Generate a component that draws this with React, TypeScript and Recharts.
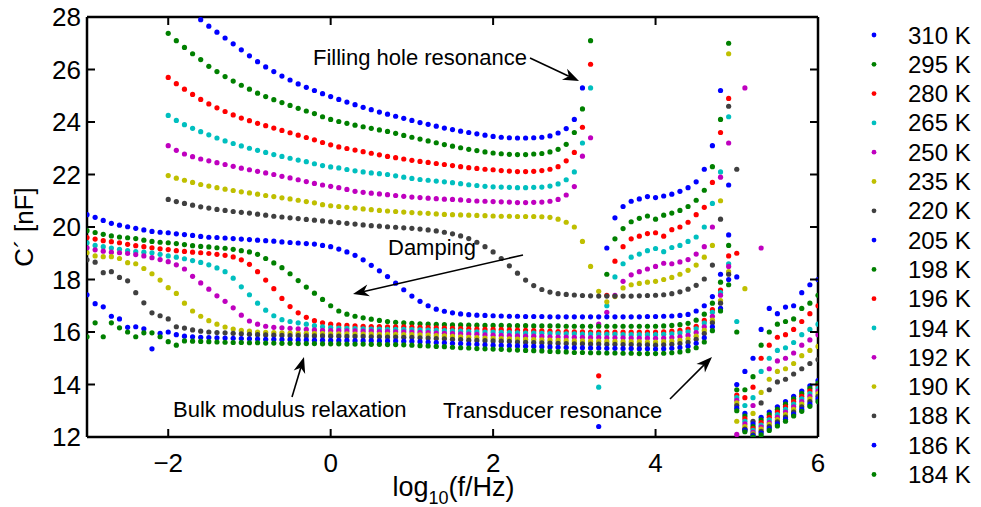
import React from 'react';
import { ScatterChart, Scatter, XAxis, YAxis } from 'recharts';

const N = null;
// measured frequency grid, log10(f/Hz), one point per 0.1 decade
const logF = Array.from({ length: 91 }, (_, i) => Math.round(-30 + i) / 10);

const c310 = [
  N, N, N, N, N, N, N, N, N, N,
  N, N, N, N, 27.9, 27.65, 27.42, 27.2, 26.98, 26.75,
  26.52, 26.3, 26.1, 25.92, 25.75, 25.6, 25.45, 25.32, 25.2, 25.08,
  24.97, 24.86, 24.76, 24.66, 24.56, 24.47, 24.38, 24.3, 24.22, 24.14,
  24.06, 23.98, 23.91, 23.84, 23.77, 23.71, 23.65, 23.6, 23.55, 23.5,
  23.45, 23.42, 23.4, 23.39, 23.39, 23.4, 23.42, 23.47, 23.58, 23.75,
  24.1, 25.3, N, 12.4, 19.2, 20.35, 20.78, 20.98, 21.07, 21.16,
  21.12, 21.18, 21.25, 21.36, 21.5, 21.72, 22.2, 23.1, 25.2, 21.6,
  18.1, 14.5, 15.0, 16.1, 16.9, 16.7, 16.95, 17.0, 17.5, 17.8,
  18.0,
];
const c295 = [
  N, N, N, N, N, N, N, N, N, N,
  27.38, 27.1, 26.84, 26.6, 26.38, 26.12, 25.92, 25.73, 25.56, 25.4,
  25.25, 25.1, 24.97, 24.85, 24.74, 24.63, 24.52, 24.42, 24.32, 24.2,
  24.1, 24.02, 23.95, 23.88, 23.82, 23.76, 23.7, 23.64, 23.57, 23.49,
  23.42, 23.35, 23.28, 23.21, 23.14, 23.08, 23.02, 22.96, 22.91, 22.86,
  22.82, 22.79, 22.77, 22.76, 22.76, 22.78, 22.8, 22.86, 22.96, 23.15,
  23.6, 24.5, 27.1, N, 18.2, 19.55, 19.94, 20.2, 20.33, 20.42,
  20.3, 20.45, 20.53, 20.63, 20.78, 21.02, 21.4, 22.3, 24.1, 27.0,
  16.0, 13.8, 14.3, 15.5, 16.0, 16.3, 16.4, 16.5, 16.9, 17.1,
  17.4,
];
const c280 = [
  N, N, N, N, N, N, N, N, N, N,
  25.7, 25.46, 25.25, 25.05, 24.86, 24.69, 24.54, 24.4, 24.27, 24.15,
  24.05, 23.95, 23.86, 23.77, 23.68, 23.59, 23.5, 23.41, 23.32, 23.22,
  23.13, 23.05, 22.99, 22.93, 22.87, 22.81, 22.75, 22.69, 22.64, 22.59,
  22.54, 22.5, 22.46, 22.42, 22.38, 22.34, 22.3, 22.26, 22.23, 22.2,
  22.18, 22.15, 22.13, 22.11, 22.11, 22.12, 22.15, 22.2, 22.3, 22.52,
  22.84, 23.8, 26.2, 14.33, 17.4, 18.7, 19.25, 19.55, 19.65, 19.75,
  19.78, 19.65, 19.9, 20.0, 20.18, 20.47, 20.75, 21.7, 23.6, 24.9,
  19.0, 13.5, 13.9, 15.0, 15.5, 15.8, 15.9, 16.1, 16.4, 16.7,
  17.0,
];
const c265 = [
  N, N, N, N, N, N, N, N, N, N,
  24.25, 24.06, 23.9, 23.76, 23.63, 23.51, 23.39, 23.28, 23.18, 23.09,
  23.0, 22.92, 22.84, 22.76, 22.69, 22.62, 22.55, 22.49, 22.41, 22.34,
  22.29, 22.25, 22.19, 22.14, 22.1, 22.06, 22.03, 22.0, 21.95, 21.9,
  21.85, 21.81, 21.78, 21.75, 21.72, 21.69, 21.65, 21.61, 21.58, 21.55,
  21.53, 21.52, 21.51, 21.5, 21.5, 21.51, 21.52, 21.56, 21.64, 21.8,
  22.1, 23.2, 25.3, 13.9, 17.0, 18.1, 18.6, 18.85, 18.97, 19.1,
  19.18, 19.06, 19.22, 19.3, 19.45, 19.62, 20.0, 20.9, 22.1, 24.2,
  16.4, 13.2, 13.5, 14.5, 15.0, 15.3, 15.4, 15.6, 15.9, 16.1,
  16.3,
];
const c250 = [
  N, N, N, N, N, N, N, N, N, N,
  23.1, 22.92, 22.78, 22.68, 22.59, 22.52, 22.45, 22.38, 22.31, 22.24,
  22.18, 22.12, 22.06, 22.0, 21.93, 21.87, 21.8, 21.73, 21.66, 21.6,
  21.55, 21.5, 21.43, 21.36, 21.32, 21.29, 21.26, 21.23, 21.2, 21.17,
  21.14, 21.12, 21.1, 21.08, 21.06, 21.05, 21.03, 21.01, 20.99, 20.98,
  20.97, 20.96, 20.95, 20.93, 20.93, 20.94, 20.95, 20.98, 21.05, 21.22,
  21.54, 22.7, 23.4, 16.3, 16.75, 17.4, 17.93, 18.18, 18.3, 18.4,
  18.5, 18.62, 18.6, 18.67, 18.76, 18.97, 19.25, 20.0, 21.9, 23.2,
  12.1, 25.3, 13.2, 19.2, 14.6, 14.9, 15.0, 15.2, 15.5, 15.7,
  15.9,
];
const c235 = [
  N, N, N, N, N, N, N, N, N, N,
  21.96, 21.86, 21.78, 21.7, 21.62, 21.56, 21.5, 21.44, 21.39, 21.34,
  21.3, 21.25, 21.2, 21.16, 21.11, 21.07, 21.02, 20.97, 20.92, 20.85,
  20.81, 20.78, 20.75, 20.72, 20.69, 20.66, 20.63, 20.61, 20.59, 20.57,
  20.55, 20.53, 20.52, 20.5, 20.48, 20.47, 20.46, 20.45, 20.44, 20.43,
  20.42, 20.41, 20.41, 20.4, 20.4, 20.4, 20.39, 20.37, 20.3, 20.18,
  20.0, 19.45, 18.5, 17.55, 17.15, 17.35, 17.68, 17.8, 17.85, 17.9,
  17.93, 18.0, 18.08, 18.2, 18.35, 18.55, 18.85, 19.3, 21.0, 26.6,
  12.6, 17.65, 12.9, 13.7, 14.2, 14.5, 14.6, 14.8, 15.1, 15.3,
  15.45,
];
const c220 = [
  N, N, N, N, N, N, N, N, N, N,
  21.05, 20.97, 20.9, 20.83, 20.77, 20.72, 20.67, 20.63, 20.59, 20.56,
  20.53, 20.49, 20.45, 20.41, 20.38, 20.35, 20.32, 20.29, 20.26, 20.23,
  20.2, 20.17, 20.14, 20.11, 20.08, 20.05, 20.03, 20.01, 19.99, 19.97,
  19.95, 19.92, 19.89, 19.85, 19.8, 19.74, 19.66, 19.56, 19.42, 19.25,
  19.05, 18.8, 18.52, 18.24, 17.98, 17.77, 17.62, 17.52, 17.46, 17.43,
  17.41, 17.39, 17.38, 17.37, 17.37, 17.37, 17.37, 17.37, 17.38, 17.39,
  17.4, 17.42, 17.46, 17.53, 17.63, 17.78, 18.02, 18.55, 20.3, 24.6,
  22.2, 12.3, 12.6, 13.3, 13.8, 14.1, 14.2, 14.4, 14.6, 14.8,
  14.95,
];
const c205 = [
  20.47, 20.37, 20.25, 20.14, 20.07, 20.01, 19.95, 19.89, 19.83, 19.8,
  19.78, 19.74, 19.71, 19.68, 19.64, 19.61, 19.6, 19.58, 19.56, 19.54,
  19.52, 19.5, 19.48, 19.46, 19.43, 19.41, 19.39, 19.37, 19.35, 19.3,
  19.25, 19.16, 19.05, 18.92, 18.75, 18.54, 18.33, 18.11, 17.86, 17.61,
  17.37, 17.17, 17.0, 16.87, 16.79, 16.73, 16.69, 16.66, 16.64, 16.63,
  16.62, 16.61, 16.6, 16.6, 16.59, 16.59, 16.59, 16.58, 16.58, 16.58,
  16.58, 16.58, 16.58, 16.58, 16.58, 16.58, 16.58, 16.58, 16.58, 16.59,
  16.59, 16.6, 16.61, 16.63, 16.67, 16.8, 17.0, 17.35, 18.2, 19.7,
  14.0, 12.9, 12.5, 12.75, 12.95, 13.15, 13.35, 13.55, 13.75, 13.95,
  14.15,
];
const c198 = [
  19.86, 19.79, 19.72, 19.66, 19.62, 19.59, 19.56, 19.5, 19.45, 19.42,
  19.4, 19.37, 19.33, 19.29, 19.26, 19.24, 19.21, 19.19, 19.15, 19.1,
  19.05, 18.96, 18.8, 18.63, 18.45, 18.22, 17.96, 17.71, 17.48, 17.24,
  17.0, 16.8, 16.68, 16.6, 16.54, 16.49, 16.44, 16.4, 16.37, 16.35,
  16.33, 16.31, 16.3, 16.29, 16.28, 16.27, 16.27, 16.26, 16.26, 16.25,
  16.25, 16.25, 16.24, 16.24, 16.24, 16.23, 16.23, 16.23, 16.23, 16.22,
  16.22, 16.22, 16.22, 16.22, 16.22, 16.22, 16.22, 16.22, 16.22, 16.22,
  16.22, 16.23, 16.25, 16.28, 16.33, 16.45, 16.68, 17.1, 17.9, 19.3,
  13.8, 12.8, 12.4, 12.65, 12.85, 13.05, 13.25, 13.45, 13.65, 13.85,
  14.05,
];
const c196 = [
  19.6, 19.54, 19.48, 19.44, 19.4, 19.34, 19.29, 19.25, 19.21, 19.17,
  19.14, 19.1, 19.07, 19.04, 19.02, 18.99, 18.96, 18.92, 18.86, 18.75,
  18.58, 18.3, 17.98, 17.65, 17.28, 16.97, 16.73, 16.56, 16.43, 16.35,
  16.3, 16.27, 16.25, 16.23, 16.22, 16.21, 16.21, 16.2, 16.2, 16.2,
  16.19, 16.18, 16.17, 16.16, 16.15, 16.14, 16.13, 16.12, 16.11, 16.1,
  16.1, 16.09, 16.08, 16.07, 16.06, 16.05, 16.04, 16.03, 16.02, 16.02,
  16.01, 16.01, 16.0, 16.0, 16.0, 16.0, 16.0, 16.0, 16.0, 16.0,
  16.0, 16.01, 16.03, 16.06, 16.11, 16.22, 16.44, 16.85, 17.6, 18.9,
  13.6, 12.7, 12.32, 12.55, 12.75, 12.95, 13.15, 13.35, 13.55, 13.75,
  13.95,
];
const c194 = [
  19.4, 19.3, 19.25, 19.2, 19.15, 19.1, 19.06, 19.04, 19.02, 18.96,
  18.9, 18.85, 18.79, 18.72, 18.65, 18.56, 18.44, 18.3, 18.05, 17.72,
  17.42, 17.1, 16.83, 16.62, 16.47, 16.4, 16.35, 16.3, 16.24, 16.2,
  16.17, 16.15, 16.14, 16.13, 16.12, 16.11, 16.11, 16.1, 16.1, 16.1,
  16.09, 16.08, 16.07, 16.06, 16.05, 16.04, 16.03, 16.02, 16.01, 16.0,
  16.0, 15.99, 15.98, 15.97, 15.96, 15.96, 15.95, 15.94, 15.94, 15.93,
  15.93, 15.92, 15.92, 15.91, 15.91, 15.91, 15.9, 15.9, 15.9, 15.9,
  15.9, 15.91, 15.93, 15.96, 16.01, 16.12, 16.34, 16.75, 17.5, 18.6,
  13.5, 12.6, 12.25, 12.45, 12.65, 12.85, 13.05, 13.25, 13.45, 13.65,
  13.85,
];
const c192 = [
  19.21, 19.13, 19.08, 19.04, 19.02, 18.99, 18.95, 18.9, 18.83, 18.76,
  18.68, 18.56, 18.4, 18.12, 17.87, 17.63, 17.38, 17.17, 16.92, 16.64,
  16.42, 16.3, 16.22, 16.18, 16.16, 16.14, 16.12, 16.1, 16.08, 16.06,
  16.05, 16.05, 16.04, 16.04, 16.03, 16.03, 16.02, 16.02, 16.01, 16.01,
  16.0, 15.99, 15.98, 15.96, 15.95, 15.94, 15.93, 15.92, 15.91, 15.89,
  15.88, 15.87, 15.86, 15.85, 15.84, 15.84, 15.83, 15.82, 15.81, 15.81,
  15.8, 15.8, 15.79, 15.79, 15.78, 15.78, 15.78, 15.77, 15.77, 15.77,
  15.76, 15.77, 15.79, 15.82, 15.87, 15.98, 16.2, 16.6, 17.4, 18.5,
  13.4, 12.5, 12.18, 12.38, 12.55, 12.75, 12.95, 13.15, 13.35, 13.55,
  13.75,
];
const c190 = [
  19.02, 18.9, 18.87, 18.87, 18.8, 18.64, 18.6, 18.42, 18.22, 17.98,
  17.69, 17.47, 17.1, 16.8, 16.6, 16.43, 16.3, 16.19, 16.11, 16.06,
  16.03, 16.0, 15.99, 15.98, 15.97, 15.96, 15.95, 15.95, 15.94, 15.94,
  15.93, 15.93, 15.93, 15.92, 15.92, 15.92, 15.91, 15.91, 15.91, 15.9,
  15.9, 15.89, 15.88, 15.86, 15.85, 15.83, 15.82, 15.8, 15.79, 15.77,
  15.76, 15.75, 15.74, 15.73, 15.72, 15.71, 15.7, 15.69, 15.68, 15.67,
  15.66, 15.66, 15.65, 15.65, 15.64, 15.64, 15.63, 15.63, 15.63, 15.62,
  15.62, 15.63, 15.65, 15.68, 15.73, 15.84, 16.06, 16.45, 17.2, 18.3,
  13.3, 12.4, 12.12, 12.3, 12.48, 12.66, 12.85, 13.05, 13.25, 13.45,
  13.65,
];
const c188 = [
  18.75, 18.66, 18.26, 18.3, 18.08, 17.95, 17.5, 17.11, 16.73, 16.62,
  16.5, 16.2, 16.15, 16.08, 16.03, 16.0, 15.98, 15.97, 15.95, 15.93,
  15.91, 15.9, 15.89, 15.88, 15.87, 15.86, 15.86, 15.85, 15.85, 15.85,
  15.84, 15.84, 15.83, 15.83, 15.83, 15.82, 15.82, 15.81, 15.81, 15.8,
  15.8, 15.78, 15.77, 15.75, 15.74, 15.72, 15.71, 15.69, 15.68, 15.67,
  15.66, 15.65, 15.64, 15.62, 15.61, 15.6, 15.59, 15.58, 15.57, 15.56,
  15.55, 15.55, 15.54, 15.54, 15.53, 15.53, 15.52, 15.52, 15.51, 15.51,
  15.5, 15.51, 15.53, 15.56, 15.61, 15.72, 15.94, 16.35, 17.1, 18.2,
  13.2, 12.3, 12.08, 12.22, 12.4, 12.58, 12.76, 12.95, 13.15, 13.35,
  13.55,
];
const c186 = [
  17.42, 17.08, 16.96, 16.6, 16.5, 16.18, 16.2, 16.12, 15.36, 15.95,
  16.0, 15.9, 15.84, 15.82, 15.8, 15.79, 15.78, 15.77, 15.76, 15.75,
  15.74, 15.73, 15.72, 15.72, 15.71, 15.71, 15.7, 15.7, 15.69, 15.69,
  15.68, 15.68, 15.68, 15.67, 15.67, 15.67, 15.66, 15.66, 15.66, 15.65,
  15.65, 15.63, 15.62, 15.6, 15.59, 15.57, 15.56, 15.54, 15.53, 15.51,
  15.5, 15.49, 15.48, 15.47, 15.46, 15.45, 15.44, 15.43, 15.42, 15.41,
  15.4, 15.4, 15.39, 15.39, 15.38, 15.38, 15.37, 15.37, 15.36, 15.36,
  15.35, 15.36, 15.38, 15.41, 15.46, 15.57, 15.78, 16.2, 16.9, 18.0,
  13.1, 12.25, 12.04, 12.15, 12.32, 12.5, 12.68, 12.87, 13.05, 13.25,
  13.45,
];
const c184 = [
  15.82, 16.35, 15.82, 16.35, 16.16, 16.0, 15.82, 15.97, 15.97, 15.82,
  15.63, 15.5, 15.66, 15.65, 15.64, 15.63, 15.62, 15.61, 15.6, 15.6,
  15.59, 15.59, 15.58, 15.58, 15.57, 15.57, 15.56, 15.56, 15.56, 15.55,
  15.55, 15.55, 15.54, 15.54, 15.54, 15.53, 15.53, 15.52, 15.52, 15.51,
  15.5, 15.48, 15.47, 15.45, 15.44, 15.42, 15.4, 15.39, 15.37, 15.36,
  15.35, 15.34, 15.32, 15.31, 15.3, 15.29, 15.28, 15.26, 15.25, 15.24,
  15.22, 15.22, 15.21, 15.21, 15.2, 15.2, 15.19, 15.19, 15.18, 15.18,
  15.18, 15.19, 15.21, 15.24, 15.29, 15.4, 15.62, 16.05, 16.8, 17.8,
  13.0, 12.2, 12.0, 12.08, 12.25, 12.42, 12.6, 12.8, 12.98, 13.17,
  13.35,
];

const temps = ['310 K', '295 K', '280 K', '265 K', '250 K', '235 K', '220 K', '205 K',
  '198 K', '196 K', '194 K', '192 K', '190 K', '188 K', '186 K', '184 K'];
const colors = ['#0000ff', '#008000', '#ff0000', '#00bfbf', '#bf00bf', '#bfbf00', '#404040', '#0000ff',
  '#008000', '#ff0000', '#00bfbf', '#bf00bf', '#bfbf00', '#404040', '#0000ff', '#008000'];
const values = [c310, c295, c280, c265, c250, c235, c220, c205,
  c198, c196, c194, c192, c190, c188, c186, c184];

const xTicks = [-2, 0, 2, 4, 6];
const yTicks = [12, 14, 16, 18, 20, 22, 24, 26, 28];

const FONT = '"Liberation Sans", Arial, Helvetica, sans-serif';

const series = values.map((vals, s) => ({
  name: temps[s],
  color: colors[s],
  points: vals
    .map((v, i) => (v === null ? null : { x: logF[i], y: v }))
    .filter((p) => p !== null),
}));

const fmt = (v: number) => (v < 0 ? `\u2212${Math.abs(v)}` : `${v}`);

const BottomTick = ({ x, y, payload }: any) => (
  <g>
    <line x1={x} y1={y} x2={x} y2={y - 8} stroke="#000" strokeWidth={2} />
    <text x={x} y={y + 35} textAnchor="middle" fontSize={26} fontFamily={FONT} fill="#000">
      {fmt(payload.value)}
    </text>
  </g>
);
const TopTick = ({ x, y }: any) => (
  <line x1={x} y1={y} x2={x} y2={y + 8} stroke="#000" strokeWidth={2} />
);
const LeftTick = ({ x, y, payload }: any) => (
  <g>
    <line x1={x} y1={y} x2={x + 8} y2={y} stroke="#000" strokeWidth={2} />
    <text x={x - 6} y={y + 9} textAnchor="end" fontSize={26} fontFamily={FONT} fill="#000">
      {payload.value}
    </text>
  </g>
);
const RightTick = ({ x, y }: any) => (
  <line x1={x} y1={y} x2={x - 8} y2={y} stroke="#000" strokeWidth={2} />
);

const Dot = (color: string) => (props: any) => (
  <circle cx={props.cx} cy={props.cy} r={2.6} fill={color} />
);

const arrow = (x1: number, y1: number, x2: number, y2: number) => {
  const a = Math.atan2(y2 - y1, x2 - x1);
  const len = 16;
  const w = 6;
  const bx = x2 - len * Math.cos(a);
  const by = y2 - len * Math.sin(a);
  const nx = x2 - len * 0.7 * Math.cos(a);
  const ny = y2 - len * 0.7 * Math.sin(a);
  const px = -Math.sin(a) * w;
  const py = Math.cos(a) * w;
  return (
    <g>
      <line x1={x1} y1={y1} x2={nx} y2={ny} stroke="#000" strokeWidth={1.6} />
      <polygon
        points={`${x2},${y2} ${bx + px},${by + py} ${nx},${ny} ${bx - px},${by - py}`}
        fill="#000"
      />
    </g>
  );
};

// page is 981x507; the wrapper cancels the body margin so chart pixels = page pixels
const App = () => (
  <div style={{ position: 'relative', width: 981, height: 507, margin: '-8px 0 0 -8px', fontFamily: FONT }}>
    <ScatterChart width={981} height={507} margin={{ top: 16, right: 162, bottom: 0, left: 8 }}>
      <XAxis
        xAxisId="b"
        dataKey="x"
        type="number"
        domain={[-3, 6]}
        ticks={xTicks}
        interval={0}
        allowDataOverflow
        height={70}
        tickSize={0}
        tickMargin={0}
        tickLine={false}
        axisLine={{ stroke: '#000', strokeWidth: 2.5 }}
        tick={<BottomTick />}
        label={{
          content: ({ viewBox }: any) => (
            <text
              x={viewBox.x + viewBox.width / 2 + 1}
              y={viewBox.y + 59}
              textAnchor="middle"
              fontSize={27}
              fontFamily={FONT}
              fill="#000"
            >
              log
              <tspan fontSize={18} dy={8}>10</tspan>
              <tspan dy={-8}>(f/Hz)</tspan>
            </text>
          ),
        }}
      />
      <XAxis
        xAxisId="t"
        orientation="top"
        dataKey="x"
        type="number"
        domain={[-3, 6]}
        ticks={xTicks}
        interval={0}
        allowDataOverflow
        height={1}
        tickSize={0}
        tickMargin={0}
        tickLine={false}
        axisLine={{ stroke: '#000', strokeWidth: 2.5 }}
        tick={<TopTick />}
      />
      <YAxis
        yAxisId="l"
        dataKey="y"
        type="number"
        domain={[12, 28]}
        ticks={yTicks}
        interval={0}
        allowDataOverflow
        width={79}
        tickSize={0}
        tickMargin={0}
        tickLine={false}
        axisLine={{ stroke: '#000', strokeWidth: 2.5 }}
        tick={<LeftTick />}
        label={{
          content: ({ viewBox }: any) => {
            const cx = 33;
            const cy = viewBox.y + viewBox.height / 2;
            return (
              <text
                x={cx}
                y={cy}
                transform={`rotate(-90 ${cx} ${cy})`}
                textAnchor="middle"
                fontSize={26}
                fontFamily={FONT}
                fill="#000"
              >
                C´ [nF]
              </text>
            );
          },
        }}
      />
      <YAxis
        yAxisId="r"
        orientation="right"
        dataKey="y"
        type="number"
        domain={[12, 28]}
        ticks={yTicks}
        interval={0}
        allowDataOverflow
        width={1}
        tickSize={0}
        tickMargin={0}
        tickLine={false}
        axisLine={{ stroke: '#000', strokeWidth: 2.5 }}
        tick={<RightTick />}
      />
      {series.map((s) => (
        <Scatter
          key={s.name}
          name={s.name}
          xAxisId="b"
          yAxisId="l"
          data={s.points}
          fill={s.color}
          shape={Dot(s.color)}
          isAnimationActive={false}
        />
      ))}
    </ScatterChart>
    <svg
      width={981}
      height={507}
      style={{ position: 'absolute', left: 0, top: 0, pointerEvents: 'none' }}
    >
      <g fontFamily={FONT} fontSize={22} fill="#000">
        <text x={313} y={65}>Filling hole resonance</text>
        <text x={388} y={255}>Damping</text>
        <text x={173} y={417}>Bulk modulus relaxation</text>
        <text x={443} y={418}>Transducer resonance</text>
      </g>
      {arrow(530, 58, 579, 81)}
      {arrow(523, 255, 353, 294)}
      {arrow(292, 397, 304, 357)}
      {arrow(670, 399, 712, 357)}
      <g fontFamily={FONT} fontSize={24} fill="#000">
        {series.map((s, i) => (
          <g key={s.name}>
            <circle cx={874} cy={35 + i * 29.3} r={2.4} fill={s.color} />
            <text x={908} y={35 + i * 29.3 + 8.5}>{s.name}</text>
          </g>
        ))}
      </g>
    </svg>
  </div>
);

export default App;
